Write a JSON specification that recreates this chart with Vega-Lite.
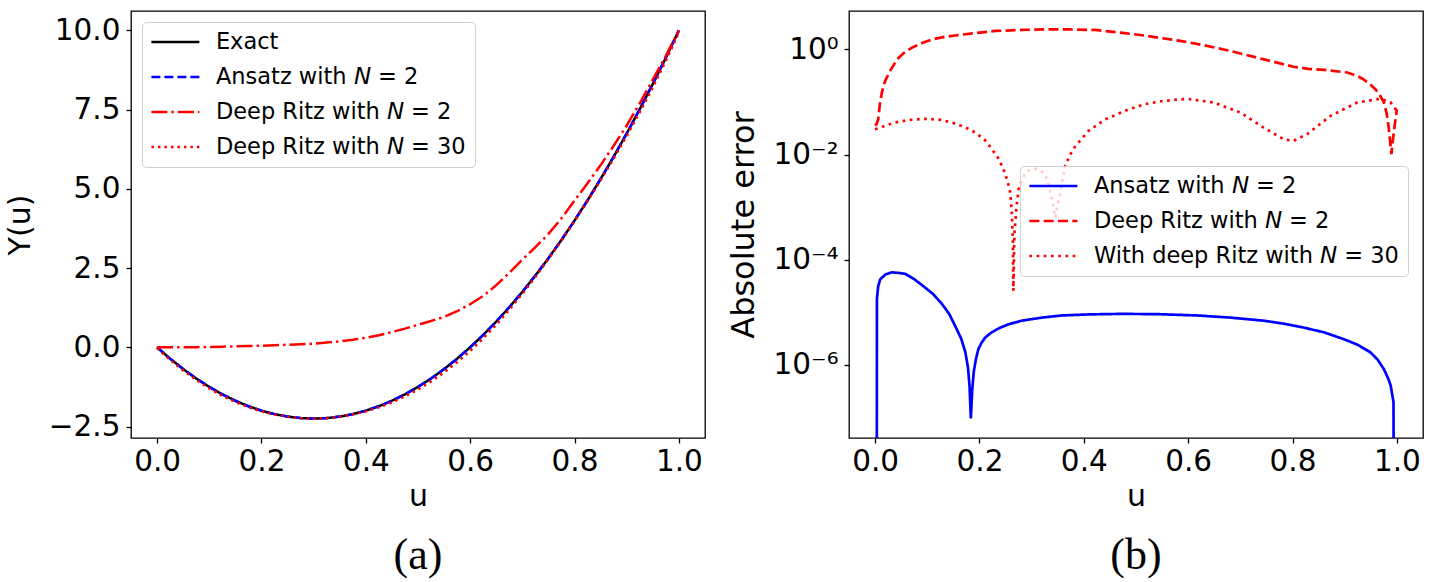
{
  "$schema": "https://vega.github.io/schema/vega-lite/v6.json",
  "background": "white",
  "padding": {"left": 4, "top": 10, "right": 5, "bottom": 5},
  "config": {
    "font": "DejaVu Sans",
    "view": {"stroke": "black", "strokeWidth": 1.3},
    "axis": {
      "grid": false,
      "domain": false,
      "tickColor": "black",
      "tickSize": 5,
      "tickWidth": 1.3,
      "labelFont": "DejaVu Sans",
      "labelFontSize": 29.5,
      "labelColor": "black",
      "labelPadding": 6,
      "labelFlush": false,
      "labelOverlap": false,
      "titleFont": "DejaVu Sans",
      "titleFontSize": 30,
      "titleFontWeight": "normal",
      "titleColor": "black"
    },
    "axisX": {"labelPadding": 4, "titlePadding": 6},
    "axisY": {"titlePadding": 13},
    "legend": {
      "orient": "none",
      "symbolType": "M-2.4,0H2.4",
      "symbolSize": 400,
      "symbolStrokeWidth": 2.5,
      "symbolOffset": 13.4,
      "labelFont": "DejaVu Sans",
      "labelFontSize": 22.5,
      "labelColor": "black",
      "labelLimit": 0,
      "labelOffset": 29,
      "rowPadding": 12,
      "padding": 8.5,
      "strokeColor": "#d0d0d0",
      "fillColor": "rgba(255,255,255,0.8)",
      "cornerRadius": 4
    }
  },
  "bounds": "flush",
  "spacing": 144,
  "datasets": {
    "curves": [
      {"u": 0, "Exact": 0, "Ansatz with 𝘕 = 2": 0, "Deep Ritz with 𝘕 = 2": 0, "Deep Ritz with 𝘕 = 30": -0.03},
      {"u": 0.025, "Exact": -0.3594, "Ansatz with 𝘕 = 2": -0.3594, "Deep Ritz with 𝘕 = 2": 0, "Deep Ritz with 𝘕 = 30": -0.396},
      {"u": 0.05, "Exact": -0.6875, "Ansatz with 𝘕 = 2": -0.6875, "Deep Ritz with 𝘕 = 2": 0, "Deep Ritz with 𝘕 = 30": -0.731},
      {"u": 0.075, "Exact": -0.9844, "Ansatz with 𝘕 = 2": -0.9844, "Deep Ritz with 𝘕 = 2": 0.005, "Deep Ritz with 𝘕 = 30": -1.03},
      {"u": 0.1, "Exact": -1.25, "Ansatz with 𝘕 = 2": -1.25, "Deep Ritz with 𝘕 = 2": 0.01, "Deep Ritz with 𝘕 = 30": -1.298},
      {"u": 0.125, "Exact": -1.4844, "Ansatz with 𝘕 = 2": -1.4844, "Deep Ritz with 𝘕 = 2": 0.02, "Deep Ritz with 𝘕 = 30": -1.529},
      {"u": 0.15, "Exact": -1.6875, "Ansatz with 𝘕 = 2": -1.6875, "Deep Ritz with 𝘕 = 2": 0.03, "Deep Ritz with 𝘕 = 30": -1.728},
      {"u": 0.175, "Exact": -1.8594, "Ansatz with 𝘕 = 2": -1.8594, "Deep Ritz with 𝘕 = 2": 0.04, "Deep Ritz with 𝘕 = 30": -1.89},
      {"u": 0.2, "Exact": -2, "Ansatz with 𝘕 = 2": -2, "Deep Ritz with 𝘕 = 2": 0.05, "Deep Ritz with 𝘕 = 30": -2.022},
      {"u": 0.225, "Exact": -2.1094, "Ansatz with 𝘕 = 2": -2.1094, "Deep Ritz with 𝘕 = 2": 0.065, "Deep Ritz with 𝘕 = 30": -2.121},
      {"u": 0.25, "Exact": -2.1875, "Ansatz with 𝘕 = 2": -2.1875, "Deep Ritz with 𝘕 = 2": 0.08, "Deep Ritz with 𝘕 = 30": -2.191},
      {"u": 0.275, "Exact": -2.2344, "Ansatz with 𝘕 = 2": -2.2344, "Deep Ritz with 𝘕 = 2": 0.095, "Deep Ritz with 𝘕 = 30": -2.238},
      {"u": 0.3, "Exact": -2.25, "Ansatz with 𝘕 = 2": -2.25, "Deep Ritz with 𝘕 = 2": 0.11, "Deep Ritz with 𝘕 = 30": -2.255},
      {"u": 0.325, "Exact": -2.2344, "Ansatz with 𝘕 = 2": -2.2344, "Deep Ritz with 𝘕 = 2": 0.15, "Deep Ritz with 𝘕 = 30": -2.238},
      {"u": 0.35, "Exact": -2.1875, "Ansatz with 𝘕 = 2": -2.1875, "Deep Ritz with 𝘕 = 2": 0.19, "Deep Ritz with 𝘕 = 30": -2.189},
      {"u": 0.375, "Exact": -2.1094, "Ansatz with 𝘕 = 2": -2.1094, "Deep Ritz with 𝘕 = 2": 0.24, "Deep Ritz with 𝘕 = 30": -2.119},
      {"u": 0.4, "Exact": -2, "Ansatz with 𝘕 = 2": -2, "Deep Ritz with 𝘕 = 2": 0.3, "Deep Ritz with 𝘕 = 30": -2.022},
      {"u": 0.425, "Exact": -1.8594, "Ansatz with 𝘕 = 2": -1.8594, "Deep Ritz with 𝘕 = 2": 0.38, "Deep Ritz with 𝘕 = 30": -1.895},
      {"u": 0.45, "Exact": -1.6875, "Ansatz with 𝘕 = 2": -1.6875, "Deep Ritz with 𝘕 = 2": 0.48, "Deep Ritz with 𝘕 = 30": -1.74},
      {"u": 0.475, "Exact": -1.4844, "Ansatz with 𝘕 = 2": -1.4844, "Deep Ritz with 𝘕 = 2": 0.59, "Deep Ritz with 𝘕 = 30": -1.551},
      {"u": 0.5, "Exact": -1.25, "Ansatz with 𝘕 = 2": -1.25, "Deep Ritz with 𝘕 = 2": 0.71, "Deep Ritz with 𝘕 = 30": -1.333},
      {"u": 0.525, "Exact": -0.9844, "Ansatz with 𝘕 = 2": -0.9844, "Deep Ritz with 𝘕 = 2": 0.83, "Deep Ritz with 𝘕 = 30": -1.079},
      {"u": 0.55, "Exact": -0.6875, "Ansatz with 𝘕 = 2": -0.6875, "Deep Ritz with 𝘕 = 2": 0.96, "Deep Ritz with 𝘕 = 30": -0.793},
      {"u": 0.575, "Exact": -0.3594, "Ansatz with 𝘕 = 2": -0.3594, "Deep Ritz with 𝘕 = 2": 1.14, "Deep Ritz with 𝘕 = 30": -0.47},
      {"u": 0.6, "Exact": 0, "Ansatz with 𝘕 = 2": 0, "Deep Ritz with 𝘕 = 2": 1.36, "Deep Ritz with 𝘕 = 30": -0.115},
      {"u": 0.625, "Exact": 0.3906, "Ansatz with 𝘕 = 2": 0.3906, "Deep Ritz with 𝘕 = 2": 1.62, "Deep Ritz with 𝘕 = 30": 0.283},
      {"u": 0.65, "Exact": 0.8125, "Ansatz with 𝘕 = 2": 0.8125, "Deep Ritz with 𝘕 = 2": 1.96, "Deep Ritz with 𝘕 = 30": 0.715},
      {"u": 0.675, "Exact": 1.2656, "Ansatz with 𝘕 = 2": 1.2656, "Deep Ritz with 𝘕 = 2": 2.35, "Deep Ritz with 𝘕 = 30": 1.185},
      {"u": 0.7, "Exact": 1.75, "Ansatz with 𝘕 = 2": 1.75, "Deep Ritz with 𝘕 = 2": 2.77, "Deep Ritz with 𝘕 = 30": 1.687},
      {"u": 0.725, "Exact": 2.2656, "Ansatz with 𝘕 = 2": 2.2656, "Deep Ritz with 𝘕 = 2": 3.16, "Deep Ritz with 𝘕 = 30": 2.221},
      {"u": 0.75, "Exact": 2.8125, "Ansatz with 𝘕 = 2": 2.8125, "Deep Ritz with 𝘕 = 2": 3.58, "Deep Ritz with 𝘕 = 30": 2.783},
      {"u": 0.775, "Exact": 3.3906, "Ansatz with 𝘕 = 2": 3.3906, "Deep Ritz with 𝘕 = 2": 4.07, "Deep Ritz with 𝘕 = 30": 3.369},
      {"u": 0.8, "Exact": 4, "Ansatz with 𝘕 = 2": 4, "Deep Ritz with 𝘕 = 2": 4.63, "Deep Ritz with 𝘕 = 30": 3.982},
      {"u": 0.825, "Exact": 4.6406, "Ansatz with 𝘕 = 2": 4.6406, "Deep Ritz with 𝘕 = 2": 5.18, "Deep Ritz with 𝘕 = 30": 4.616},
      {"u": 0.85, "Exact": 5.3125, "Ansatz with 𝘕 = 2": 5.3125, "Deep Ritz with 𝘕 = 2": 5.75, "Deep Ritz with 𝘕 = 30": 5.276},
      {"u": 0.875, "Exact": 6.0156, "Ansatz with 𝘕 = 2": 6.0156, "Deep Ritz with 𝘕 = 2": 6.36, "Deep Ritz with 𝘕 = 30": 5.959},
      {"u": 0.9, "Exact": 6.75, "Ansatz with 𝘕 = 2": 6.75, "Deep Ritz with 𝘕 = 2": 7.0, "Deep Ritz with 𝘕 = 30": 6.671},
      {"u": 0.925, "Exact": 7.5156, "Ansatz with 𝘕 = 2": 7.5156, "Deep Ritz with 𝘕 = 2": 7.7, "Deep Ritz with 𝘕 = 30": 7.418},
      {"u": 0.95, "Exact": 8.3125, "Ansatz with 𝘕 = 2": 8.3125, "Deep Ritz with 𝘕 = 2": 8.45, "Deep Ritz with 𝘕 = 30": 8.201},
      {"u": 0.975, "Exact": 9.1406, "Ansatz with 𝘕 = 2": 9.1406, "Deep Ritz with 𝘕 = 2": 9.2, "Deep Ritz with 𝘕 = 30": 9.041},
      {"u": 1, "Exact": 10, "Ansatz with 𝘕 = 2": 10, "Deep Ritz with 𝘕 = 2": 10, "Deep Ritz with 𝘕 = 30": 9.932}
    ],
    "errors": [
      {"series": "Ansatz with 𝘕 = 2", "u": 0.003, "err": 1e-12},
      {"series": "Ansatz with 𝘕 = 2", "u": 0.0035, "err": 1.78e-5},
      {"series": "Ansatz with 𝘕 = 2", "u": 0.006, "err": 3.16e-5},
      {"series": "Ansatz with 𝘕 = 2", "u": 0.01, "err": 4.27e-5},
      {"series": "Ansatz with 𝘕 = 2", "u": 0.02, "err": 5.25e-5},
      {"series": "Ansatz with 𝘕 = 2", "u": 0.032, "err": 5.75e-5},
      {"series": "Ansatz with 𝘕 = 2", "u": 0.045, "err": 5.62e-5},
      {"series": "Ansatz with 𝘕 = 2", "u": 0.058, "err": 5.37e-5},
      {"series": "Ansatz with 𝘕 = 2", "u": 0.075, "err": 4.27e-5},
      {"series": "Ansatz with 𝘕 = 2", "u": 0.096, "err": 2.95e-5},
      {"series": "Ansatz with 𝘕 = 2", "u": 0.112, "err": 2.19e-5},
      {"series": "Ansatz with 𝘕 = 2", "u": 0.128, "err": 1.45e-5},
      {"series": "Ansatz with 𝘕 = 2", "u": 0.142, "err": 9.33e-6},
      {"series": "Ansatz with 𝘕 = 2", "u": 0.153, "err": 5.62e-6},
      {"series": "Ansatz with 𝘕 = 2", "u": 0.165, "err": 3.16e-6},
      {"series": "Ansatz with 𝘕 = 2", "u": 0.173, "err": 1.74e-6},
      {"series": "Ansatz with 𝘕 = 2", "u": 0.178, "err": 8.9e-7},
      {"series": "Ansatz with 𝘕 = 2", "u": 0.181, "err": 3.98e-7},
      {"series": "Ansatz with 𝘕 = 2", "u": 0.1835, "err": 9.55e-8},
      {"series": "Ansatz with 𝘕 = 2", "u": 0.186, "err": 3.16e-7},
      {"series": "Ansatz with 𝘕 = 2", "u": 0.189, "err": 7.24e-7},
      {"series": "Ansatz with 𝘕 = 2", "u": 0.193, "err": 1.26e-6},
      {"series": "Ansatz with 𝘕 = 2", "u": 0.198, "err": 2.0e-6},
      {"series": "Ansatz with 𝘕 = 2", "u": 0.204, "err": 2.63e-6},
      {"series": "Ansatz with 𝘕 = 2", "u": 0.211, "err": 3.31e-6},
      {"series": "Ansatz with 𝘕 = 2", "u": 0.222, "err": 4.07e-6},
      {"series": "Ansatz with 𝘕 = 2", "u": 0.236, "err": 4.9e-6},
      {"series": "Ansatz with 𝘕 = 2", "u": 0.255, "err": 5.89e-6},
      {"series": "Ansatz with 𝘕 = 2", "u": 0.281, "err": 6.92e-6},
      {"series": "Ansatz with 𝘕 = 2", "u": 0.32, "err": 7.94e-6},
      {"series": "Ansatz with 𝘕 = 2", "u": 0.358, "err": 8.71e-6},
      {"series": "Ansatz with 𝘕 = 2", "u": 0.41, "err": 9.12e-6},
      {"series": "Ansatz with 𝘕 = 2", "u": 0.47, "err": 9.33e-6},
      {"series": "Ansatz with 𝘕 = 2", "u": 0.54, "err": 9.23e-6},
      {"series": "Ansatz with 𝘕 = 2", "u": 0.617, "err": 8.71e-6},
      {"series": "Ansatz with 𝘕 = 2", "u": 0.68, "err": 7.94e-6},
      {"series": "Ansatz with 𝘕 = 2", "u": 0.745, "err": 6.92e-6},
      {"series": "Ansatz with 𝘕 = 2", "u": 0.785, "err": 6.03e-6},
      {"series": "Ansatz with 𝘕 = 2", "u": 0.821, "err": 5.13e-6},
      {"series": "Ansatz with 𝘕 = 2", "u": 0.86, "err": 4.17e-6},
      {"series": "Ansatz with 𝘕 = 2", "u": 0.898, "err": 3.09e-6},
      {"series": "Ansatz with 𝘕 = 2", "u": 0.925, "err": 2.4e-6},
      {"series": "Ansatz with 𝘕 = 2", "u": 0.949, "err": 1.74e-6},
      {"series": "Ansatz with 𝘕 = 2", "u": 0.963, "err": 1.26e-6},
      {"series": "Ansatz with 𝘕 = 2", "u": 0.975, "err": 8.3e-7},
      {"series": "Ansatz with 𝘕 = 2", "u": 0.983, "err": 5.6e-7},
      {"series": "Ansatz with 𝘕 = 2", "u": 0.988, "err": 4.07e-7},
      {"series": "Ansatz with 𝘕 = 2", "u": 0.9935, "err": 1.95e-7},
      {"series": "Ansatz with 𝘕 = 2", "u": 0.9945, "err": 1e-12},
      {"series": "Deep Ritz with 𝘕 = 2", "u": 0, "err": 0.0355},
      {"series": "Deep Ritz with 𝘕 = 2", "u": 0.003, "err": 0.038},
      {"series": "Deep Ritz with 𝘕 = 2", "u": 0.006, "err": 0.047},
      {"series": "Deep Ritz with 𝘕 = 2", "u": 0.009, "err": 0.089},
      {"series": "Deep Ritz with 𝘕 = 2", "u": 0.013, "err": 0.151},
      {"series": "Deep Ritz with 𝘕 = 2", "u": 0.017, "err": 0.219},
      {"series": "Deep Ritz with 𝘕 = 2", "u": 0.022, "err": 0.288},
      {"series": "Deep Ritz with 𝘕 = 2", "u": 0.03, "err": 0.407},
      {"series": "Deep Ritz with 𝘕 = 2", "u": 0.042, "err": 0.646},
      {"series": "Deep Ritz with 𝘕 = 2", "u": 0.055, "err": 0.851},
      {"series": "Deep Ritz with 𝘕 = 2", "u": 0.07, "err": 1.07},
      {"series": "Deep Ritz with 𝘕 = 2", "u": 0.09, "err": 1.32},
      {"series": "Deep Ritz with 𝘕 = 2", "u": 0.109, "err": 1.55},
      {"series": "Deep Ritz with 𝘕 = 2", "u": 0.135, "err": 1.74},
      {"series": "Deep Ritz with 𝘕 = 2", "u": 0.166, "err": 1.91},
      {"series": "Deep Ritz with 𝘕 = 2", "u": 0.2, "err": 2.09},
      {"series": "Deep Ritz with 𝘕 = 2", "u": 0.23, "err": 2.24},
      {"series": "Deep Ritz with 𝘕 = 2", "u": 0.28, "err": 2.34},
      {"series": "Deep Ritz with 𝘕 = 2", "u": 0.326, "err": 2.4},
      {"series": "Deep Ritz with 𝘕 = 2", "u": 0.37, "err": 2.4},
      {"series": "Deep Ritz with 𝘕 = 2", "u": 0.422, "err": 2.34},
      {"series": "Deep Ritz with 𝘕 = 2", "u": 0.47, "err": 2.09},
      {"series": "Deep Ritz with 𝘕 = 2", "u": 0.518, "err": 1.82},
      {"series": "Deep Ritz with 𝘕 = 2", "u": 0.585, "err": 1.45},
      {"series": "Deep Ritz with 𝘕 = 2", "u": 0.63, "err": 1.2},
      {"series": "Deep Ritz with 𝘕 = 2", "u": 0.681, "err": 0.933},
      {"series": "Deep Ritz with 𝘕 = 2", "u": 0.745, "err": 0.646},
      {"series": "Deep Ritz with 𝘕 = 2", "u": 0.802, "err": 0.468},
      {"series": "Deep Ritz with 𝘕 = 2", "u": 0.83, "err": 0.427},
      {"series": "Deep Ritz with 𝘕 = 2", "u": 0.86, "err": 0.407},
      {"series": "Deep Ritz with 𝘕 = 2", "u": 0.905, "err": 0.363},
      {"series": "Deep Ritz with 𝘕 = 2", "u": 0.925, "err": 0.309},
      {"series": "Deep Ritz with 𝘕 = 2", "u": 0.936, "err": 0.269},
      {"series": "Deep Ritz with 𝘕 = 2", "u": 0.948, "err": 0.219},
      {"series": "Deep Ritz with 𝘕 = 2", "u": 0.959, "err": 0.174},
      {"series": "Deep Ritz with 𝘕 = 2", "u": 0.968, "err": 0.132},
      {"series": "Deep Ritz with 𝘕 = 2", "u": 0.975, "err": 0.098},
      {"series": "Deep Ritz with 𝘕 = 2", "u": 0.98, "err": 0.063},
      {"series": "Deep Ritz with 𝘕 = 2", "u": 0.984, "err": 0.0347},
      {"series": "Deep Ritz with 𝘕 = 2", "u": 0.987, "err": 0.0178},
      {"series": "Deep Ritz with 𝘕 = 2", "u": 0.9895, "err": 0.0102},
      {"series": "Deep Ritz with 𝘕 = 2", "u": 0.992, "err": 0.0178},
      {"series": "Deep Ritz with 𝘕 = 2", "u": 0.994, "err": 0.0263},
      {"series": "Deep Ritz with 𝘕 = 2", "u": 0.997, "err": 0.0447},
      {"series": "Deep Ritz with 𝘕 = 2", "u": 1, "err": 0.0724},
      {"series": "With deep Ritz with 𝘕 = 30", "u": 0, "err": 0.0302},
      {"series": "With deep Ritz with 𝘕 = 30", "u": 0.02, "err": 0.0355},
      {"series": "With deep Ritz with 𝘕 = 30", "u": 0.038, "err": 0.0407},
      {"series": "With deep Ritz with 𝘕 = 30", "u": 0.06, "err": 0.0447},
      {"series": "With deep Ritz with 𝘕 = 30", "u": 0.08, "err": 0.0468},
      {"series": "With deep Ritz with 𝘕 = 30", "u": 0.102, "err": 0.0479},
      {"series": "With deep Ritz with 𝘕 = 30", "u": 0.125, "err": 0.0457},
      {"series": "With deep Ritz with 𝘕 = 30", "u": 0.147, "err": 0.0407},
      {"series": "With deep Ritz with 𝘕 = 30", "u": 0.17, "err": 0.0339},
      {"series": "With deep Ritz with 𝘕 = 30", "u": 0.192, "err": 0.0263},
      {"series": "With deep Ritz with 𝘕 = 30", "u": 0.21, "err": 0.0191},
      {"series": "With deep Ritz with 𝘕 = 30", "u": 0.224, "err": 0.0126},
      {"series": "With deep Ritz with 𝘕 = 30", "u": 0.236, "err": 0.0085},
      {"series": "With deep Ritz with 𝘕 = 30", "u": 0.246, "err": 0.00525},
      {"series": "With deep Ritz with 𝘕 = 30", "u": 0.253, "err": 0.00331},
      {"series": "With deep Ritz with 𝘕 = 30", "u": 0.259, "err": 0.00191},
      {"series": "With deep Ritz with 𝘕 = 30", "u": 0.262, "err": 0.00079},
      {"series": "With deep Ritz with 𝘕 = 30", "u": 0.264, "err": 0.000245},
      {"series": "With deep Ritz with 𝘕 = 30", "u": 0.265, "err": 2.57e-5},
      {"series": "With deep Ritz with 𝘕 = 30", "u": 0.267, "err": 0.000316},
      {"series": "With deep Ritz with 𝘕 = 30", "u": 0.271, "err": 0.001},
      {"series": "With deep Ritz with 𝘕 = 30", "u": 0.275, "err": 0.00219},
      {"series": "With deep Ritz with 𝘕 = 30", "u": 0.283, "err": 0.00363},
      {"series": "With deep Ritz with 𝘕 = 30", "u": 0.291, "err": 0.0049},
      {"series": "With deep Ritz with 𝘕 = 30", "u": 0.307, "err": 0.00537},
      {"series": "With deep Ritz with 𝘕 = 30", "u": 0.323, "err": 0.00457},
      {"series": "With deep Ritz with 𝘕 = 30", "u": 0.331, "err": 0.00316},
      {"series": "With deep Ritz with 𝘕 = 30", "u": 0.336, "err": 0.00191},
      {"series": "With deep Ritz with 𝘕 = 30", "u": 0.341, "err": 0.00112},
      {"series": "With deep Ritz with 𝘕 = 30", "u": 0.345, "err": 0.00063},
      {"series": "With deep Ritz with 𝘕 = 30", "u": 0.35, "err": 0.00112},
      {"series": "With deep Ritz with 𝘕 = 30", "u": 0.355, "err": 0.00191},
      {"series": "With deep Ritz with 𝘕 = 30", "u": 0.364, "err": 0.00603},
      {"series": "With deep Ritz with 𝘕 = 30", "u": 0.374, "err": 0.01},
      {"series": "With deep Ritz with 𝘕 = 30", "u": 0.384, "err": 0.0145},
      {"series": "With deep Ritz with 𝘕 = 30", "u": 0.409, "err": 0.0282},
      {"series": "With deep Ritz with 𝘕 = 30", "u": 0.441, "err": 0.0468},
      {"series": "With deep Ritz with 𝘕 = 30", "u": 0.486, "err": 0.0724},
      {"series": "With deep Ritz with 𝘕 = 30", "u": 0.518, "err": 0.0912},
      {"series": "With deep Ritz with 𝘕 = 30", "u": 0.553, "err": 0.105},
      {"series": "With deep Ritz with 𝘕 = 30", "u": 0.598, "err": 0.115},
      {"series": "With deep Ritz with 𝘕 = 30", "u": 0.649, "err": 0.0977},
      {"series": "With deep Ritz with 𝘕 = 30", "u": 0.7, "err": 0.0631},
      {"series": "With deep Ritz with 𝘕 = 30", "u": 0.745, "err": 0.0324},
      {"series": "With deep Ritz with 𝘕 = 30", "u": 0.783, "err": 0.0195},
      {"series": "With deep Ritz with 𝘕 = 30", "u": 0.802, "err": 0.0182},
      {"series": "With deep Ritz with 𝘕 = 30", "u": 0.828, "err": 0.0245},
      {"series": "With deep Ritz with 𝘕 = 30", "u": 0.872, "err": 0.0537},
      {"series": "With deep Ritz with 𝘕 = 30", "u": 0.924, "err": 0.0977},
      {"series": "With deep Ritz with 𝘕 = 30", "u": 0.968, "err": 0.115},
      {"series": "With deep Ritz with 𝘕 = 30", "u": 0.988, "err": 0.0977},
      {"series": "With deep Ritz with 𝘕 = 30", "u": 1, "err": 0.0676}
    ]
  },
  "hconcat": [
    {
      "width": 574,
      "height": 427,
      "title": {"text": "(a)", "orient": "bottom", "anchor": "middle", "font": "Liberation Serif", "fontSize": 44, "fontWeight": "normal", "color": "black", "offset": 22},
      "data": {"name": "curves"},
      "transform": [
        {"fold": ["Exact", "Ansatz with 𝘕 = 2", "Deep Ritz with 𝘕 = 2", "Deep Ritz with 𝘕 = 30"], "as": ["series", "Y"]}
      ],
      "mark": {"type": "line", "strokeWidth": 2.5, "clip": true},
      "encoding": {
        "x": {
          "field": "u", "type": "quantitative",
          "scale": {"domain": [-0.05, 1.05], "nice": false, "zero": false},
          "axis": {"values": [0, 0.2, 0.4, 0.6, 0.8, 1], "format": ".1f", "title": "u"}
        },
        "y": {
          "field": "Y", "type": "quantitative",
          "scale": {"domain": [-2.8625, 10.6125], "nice": false, "zero": false},
          "axis": {"values": [-2.5, 0, 2.5, 5, 7.5, 10], "format": ".1f", "title": "Y(u)"}
        },
        "color": {
          "field": "series", "type": "nominal",
          "scale": {"domain": ["Exact", "Ansatz with 𝘕 = 2", "Deep Ritz with 𝘕 = 2", "Deep Ritz with 𝘕 = 30"], "range": ["#000000", "#0000ff", "#ff0000", "#ff0000"]},
          "legend": {"title": null, "legendX": 11, "legendY": 11}
        },
        "strokeDash": {
          "field": "series", "type": "nominal",
          "scale": {"domain": ["Exact", "Ansatz with 𝘕 = 2", "Deep Ritz with 𝘕 = 2", "Deep Ritz with 𝘕 = 30"], "range": [[1, 0], [9, 4], [16, 4, 2.5, 4], [2.5, 4]]}
        }
      }
    },
    {
      "width": 574,
      "height": 427,
      "title": {"text": "(b)", "orient": "bottom", "anchor": "middle", "font": "Liberation Serif", "fontSize": 44, "fontWeight": "normal", "color": "black", "offset": 22},
      "data": {"name": "errors"},
      "mark": {"type": "line", "strokeWidth": 2.7, "clip": true},
      "encoding": {
        "x": {
          "field": "u", "type": "quantitative",
          "scale": {"domain": [-0.05, 1.05], "nice": false, "zero": false},
          "axis": {"values": [0, 0.2, 0.4, 0.6, 0.8, 1], "format": ".1f", "title": "u"}
        },
        "y": {
          "field": "err", "type": "quantitative",
          "scale": {"type": "log", "domain": [4.07e-8, 5.37], "nice": false, "zero": false},
          "axis": {
            "values": [0.000001, 0.0001, 0.01, 1],
            "labelExpr": "round(log(datum.value)/LN10) == 0 ? '10⁰' : round(log(datum.value)/LN10) == -2 ? '10⁻²' : round(log(datum.value)/LN10) == -4 ? '10⁻⁴' : '10⁻⁶'",
            "title": "Absolute error",
            "titleFontSize": 32,
            "titlePadding": 13
          }
        },
        "color": {
          "field": "series", "type": "nominal",
          "scale": {"domain": ["Ansatz with 𝘕 = 2", "Deep Ritz with 𝘕 = 2", "With deep Ritz with 𝘕 = 30"], "range": ["#0000ff", "#ff0000", "#ff0000"]},
          "legend": {"title": null, "legendX": 171, "legendY": 155}
        },
        "strokeDash": {
          "field": "series", "type": "nominal",
          "scale": {"domain": ["Ansatz with 𝘕 = 2", "Deep Ritz with 𝘕 = 2", "With deep Ritz with 𝘕 = 30"], "range": [[1, 0], [10, 4.3], [2.7, 4.5]]}
        }
      }
    }
  ],
  "resolve": {
    "scale": {"color": "independent", "strokeDash": "independent"},
    "legend": {"color": "independent", "strokeDash": "independent"}
  }
}
